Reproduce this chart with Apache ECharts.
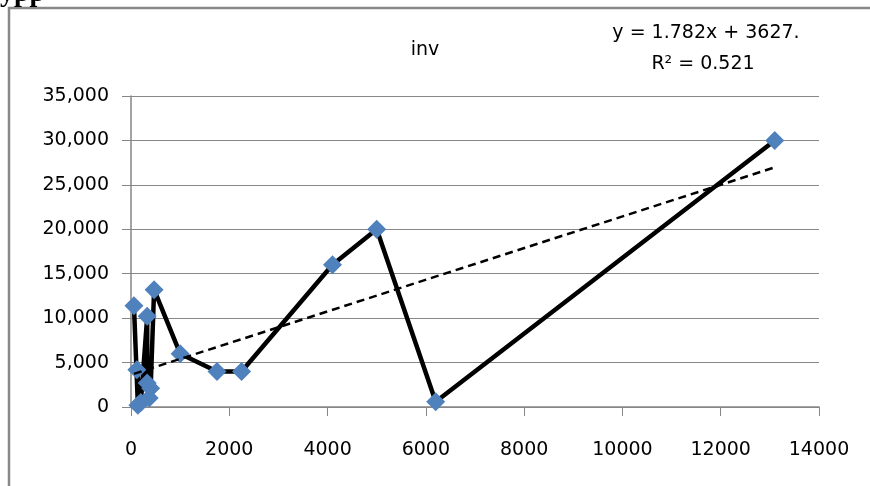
<!DOCTYPE html>
<html>
<head>
<meta charset="utf-8">
<script src="https://cdn.jsdelivr.net/npm/echarts@6/dist/echarts.min.js"></script>
<style>html,body{margin:0;padding:0;background:#fff}#c{width:870px;height:486px}</style>
</head>
<body>
<div id="c"></div>
<script>
// Data, in plotting order
const xValues = [60, 140, 120, 200, 330, 330, 370, 400, 470, 1000, 1750, 2250, 4100, 5000, 6200, 13100];
const yValues = [11400, 200, 4200, 500, 10200, 2700, 1000, 2100, 13200, 6000, 4000, 4000, 16000, 20000, 600, 30000];
// Linear trendline as shown on the chart
const trendSlope = 1.782;
const trendIntercept = 3627;
const xTicks = [0, 2000, 4000, 6000, 8000, 10000, 12000, 14000];
const yTicks = [0, 5000, 10000, 15000, 20000, 25000, 30000, 35000];
const titleText = 'inv';
const eqText = 'y = 1.782x + 3627.';
const r2Text = 'R² = 0.521';

const pts = xValues.map((x, i) => [x, yValues[i]]);
const xmin = Math.min(...xValues), xmax = Math.max(...xValues);
const trend = [[xmin, trendSlope * xmin + trendIntercept], [xmax, trendSlope * xmax + trendIntercept]];

const font = 'DejaVu Sans';
const gray = '#878787';
const chart = echarts.init(document.getElementById('c'), null, {renderer: 'canvas'});
chart.setOption({
  animation: false,
  backgroundColor: '#fff',
  grid: {left: 131, right: 51, top: 96, bottom: 79, containLabel: false},
  xAxis: {
    type: 'value', min: xTicks[0], max: xTicks[xTicks.length - 1], interval: 2000,
    axisLine: {show: true, onZero: false, lineStyle: {color: gray, width: 1.5}},
    axisTick: {show: true, length: 9, lineStyle: {color: gray}},
    axisLabel: {color: '#000', fontFamily: font, fontSize: 19, margin: 34,
      formatter: v => String(v)},
    splitLine: {show: false}
  },
  yAxis: {
    type: 'value', min: yTicks[0], max: yTicks[yTicks.length - 1], interval: 5000,
    axisLine: {show: true, lineStyle: {color: gray, width: 1.5}},
    axisTick: {show: true, length: 9, lineStyle: {color: gray}},
    axisLabel: {color: '#000', fontFamily: font, fontSize: 19, margin: 22,
      formatter: v => v.toLocaleString('en-US')},
    splitLine: {show: true, lineStyle: {color: gray, width: 1}}
  },
  series: [
    {
      type: 'line', data: pts, z: 3,
      symbol: 'diamond', symbolSize: 19, showSymbol: true,
      itemStyle: {color: '#4F81BD'},
      lineStyle: {color: '#000', width: 4.5}
    },
    {
      type: 'line', data: trend, z: 4, symbol: 'none',
      lineStyle: {color: '#000', width: 2.5, type: [8, 5]}
    }
  ],
  graphic: [
    {type: 'polyline', shape: {points: [[9, 486], [9, 8], [870, 8]]},
      style: {stroke: '#888', lineWidth: 2.5, fill: null}},
    {type: 'text', x: 0, y: 8,
      style: {text: 'ypp', font: 'bold 28px "Liberation Serif"', fill: '#000', verticalAlign: 'bottom'}},
    {type: 'text', x: 425, y: 50,
      style: {text: titleText, font: '19px "' + font + '"', fill: '#000', align: 'center', verticalAlign: 'middle'}},
    {type: 'text', x: 706, y: 33,
      style: {text: eqText, font: '19px "' + font + '"', fill: '#000', align: 'center', verticalAlign: 'middle'}},
    {type: 'text', x: 703, y: 64,
      style: {text: r2Text, font: '19px "' + font + '"', fill: '#000', align: 'center', verticalAlign: 'middle'}}
  ]
});
</script>
</body>
</html>
